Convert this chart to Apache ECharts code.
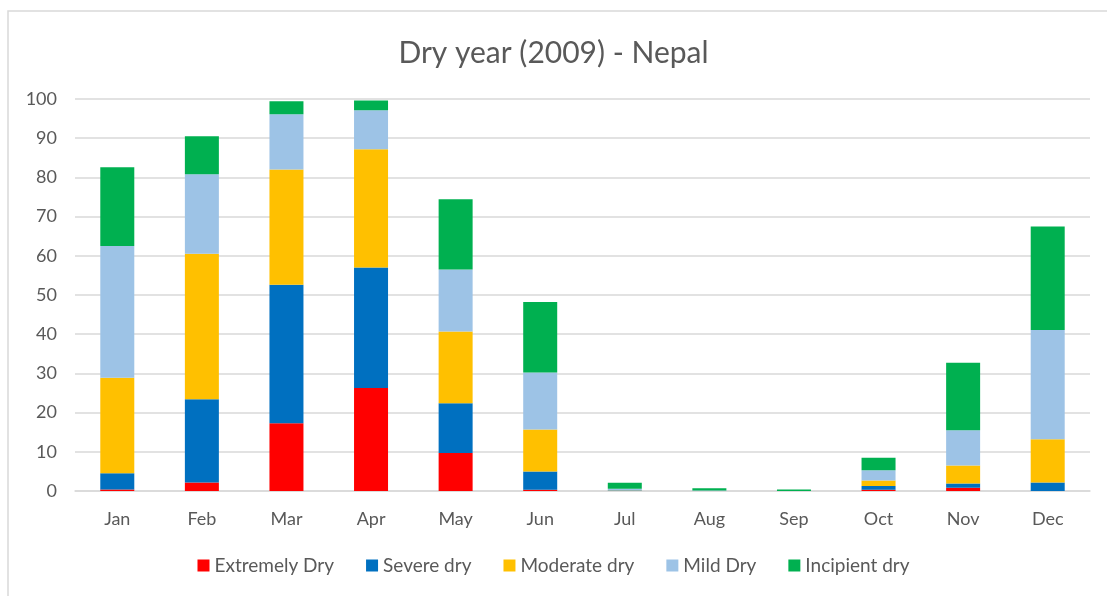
<!DOCTYPE html>
<html>
<head>
<meta charset="utf-8">
<script src="https://cdn.jsdelivr.net/npm/echarts@6/dist/echarts.min.js"></script>
<style>
	html,body{margin:0;padding:0;background:#fff;}
	#main{width:1107px;height:596px;}
</style>
</head>
<body>
<div id="main"></div>
<script>
var months=['Jan','Feb','Mar','Apr','May','Jun','Jul','Aug','Sep','Oct','Nov','Dec'];
var extremelyDry=[0.4,2.2,17.3,26.3,9.7,0.3,0,0,0,0.3,0.8,0];
var severeDry=[4.1,21.2,35.3,30.7,12.7,4.7,0.1,0,0,1.0,1.1,2.2];
var moderateDry=[24.4,37.1,29.4,30.2,18.3,10.7,0.1,0,0,1.4,4.6,11.0];
var mildDry=[33.6,20.3,14.1,9.9,15.8,14.5,0.4,0.1,0,2.6,9.0,27.9];
var incipientDry=[20.1,9.7,3.3,2.5,17.9,18.0,1.5,0.6,0.4,3.2,17.2,26.4];
var yTicks=[0,10,20,30,40,50,60,70,80,90,100];

var font='Lato, "Open Sans", sans-serif';
function bar(name,color,data){
	return {
		name:name,
		type:'bar',
		stack:'total',
		barWidth:34,
		itemStyle:{color:color},
		data:data
	};
}
var chart=echarts.init(document.getElementById('main'));
chart.setOption({
	animation:false,
	textStyle:{fontFamily:font},
	title:{
		text:'Dry year (2009) - Nepal',
		left:'center',
		top:33,
		textStyle:{fontFamily:font,fontSize:30,fontWeight:'normal',color:'#595959'}
	},
	graphic:[{
		type:'rect',
		shape:{x:8,y:11,width:1120,height:620},
		style:{fill:'none',stroke:'#d9d9d9',lineWidth:1.5},
		silent:true
	}],
	legend:{
		bottom:16,
		left:'center',
		itemWidth:12,
		itemHeight:12,
		itemGap:32,
		icon:'rect',
		textStyle:{fontFamily:font,fontSize:19,color:'#595959'},
		data:['Extremely Dry','Severe dry','Moderate dry','Mild Dry','Incipient dry']
	},
	grid:{left:75,right:17,top:99,bottom:105,containLabel:false},
	xAxis:{
		type:'category',
		data:months,
		axisTick:{show:false},
		axisLine:{lineStyle:{color:'#d9d9d9',width:1.5}},
		axisLabel:{margin:19,fontSize:18,color:'#595959',fontFamily:font}
	},
	yAxis:{
		type:'value',
		min:yTicks[0],
		max:yTicks[yTicks.length-1],
		interval:10,
		axisLine:{show:false},
		axisTick:{show:false},
		splitLine:{lineStyle:{color:'#d9d9d9',width:1.5}},
		axisLabel:{margin:18,fontSize:18,color:'#595959',fontFamily:font}
	},
	series:[
		bar('Extremely Dry','#FF0000',extremelyDry),
		bar('Severe dry','#0070C0',severeDry),
		bar('Moderate dry','#FFC000',moderateDry),
		bar('Mild Dry','#9DC3E6',mildDry),
		bar('Incipient dry','#00B050',incipientDry)
	]
});
</script>
</body>
</html>
